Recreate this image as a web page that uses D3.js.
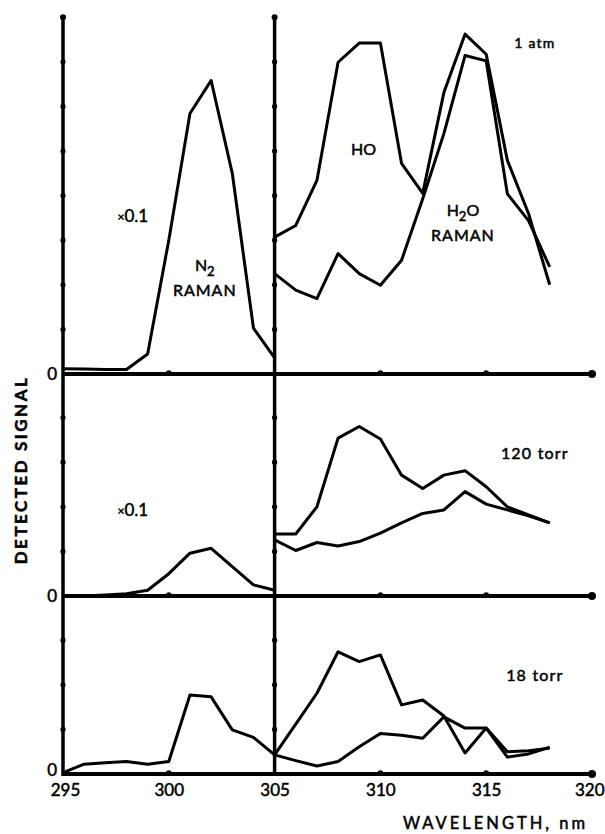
<!DOCTYPE html>
<html>
<head>
<meta charset="utf-8">
<script src="https://cdn.jsdelivr.net/npm/d3@7"></script>
<style>
  body { margin: 0; background: #fff; }
  svg text { font-family: Lato, "Open Sans", sans-serif; fill: #000; stroke: #000; stroke-width: 0.5px; }
</style>
</head>
<body>
<div id="chart"></div>
<script>
// wavelengths (nm) for the two halves of every panel
var wlLeft = [295, 296, 297, 298, 299, 300, 301, 302, 303, 304, 305];
var wlRight = [305, 306, 307, 308, 309, 310, 311, 312, 313, 314, 315, 316, 317, 318];
var xTicks = [295, 300, 305, 310, 315, 320];

// 1 atm (values in tick units)
var n2Atm = [0.12, 0.11, 0.1, 0.1, 0.45, 3.0, 5.84, 6.58, 4.5, 1.03, 0.36];
var hoAtm = [3.07, 3.33, 4.34, 6.99, 7.42, 7.42, 4.72, 4.05, 6.31, 7.62, 7.17, 4.79, 3.6, 2.0];
var h2oAtm = [2.25, 1.88, 1.69, 2.7, 2.25, 1.99, 2.55, 3.93, 5.39, 7.14, 7.02, 4.04, 3.44, 2.4];

// 120 torr
var n2Torr120 = [0, 0, 0.02, 0.05, 0.13, 0.5, 0.96, 1.07, 0.66, 0.25, 0.13];
var hoTorr120 = [1.39, 1.39, 2.0, 3.54, 3.8, 3.52, 2.71, 2.41, 2.71, 2.81, 2.45, 2.0, 1.82, 1.64];
var h2oTorr120 = [1.26, 1.02, 1.2, 1.12, 1.22, 1.41, 1.64, 1.85, 1.93, 2.34, 2.06, 1.93, 1.8, 1.64];

// 18 torr
var n2Torr18 = [0.03, 0.22, 0.25, 0.28, 0.22, 0.28, 1.77, 1.73, 0.99, 0.82, 0.43];
var hoTorr18 = [0.43, 1.12, 1.81, 2.74, 2.52, 2.67, 1.55, 1.66, 1.3, 0.47, 1.03, 0.38, 0.45, 0.6];
var h2oTorr18 = [0.43, 0.3, 0.18, 0.28, 0.61, 0.91, 0.87, 0.8, 1.28, 1.03, 1.03, 0.5, 0.52, 0.58];

var panelMax = [8, 5, 4];
var panelLabels = ["1 atm", "120 torr", "18 torr"];

var width = 605, height = 834;
var unit = 44.6;
var zeros = [374, 596, 774];

var x = d3.scaleLinear().domain([295, 320]).range([63, 592]);
var ys = zeros.map(function(z, i) {
    return d3.scaleLinear().domain([0, panelMax[i]]).range([z, z - panelMax[i] * unit]);
});

var svg = d3.select('#chart').append('svg')
    .attr('width', width).attr('height', height);

var series = [
    [n2Atm, hoAtm, h2oAtm],
    [n2Torr120, hoTorr120, h2oTorr120],
    [n2Torr18, hoTorr18, h2oTorr18]
];

series.forEach(function(s, p) {
    var y = ys[p];
    var line = d3.line()
        .x(function(d) { return x(d[0]); })
        .y(function(d) { return y(d[1]); });
    var left = wlLeft.map(function(w, i) { return [w, s[0][i]]; });
    svg.append('path').attr('d', line(left))
        .attr('fill', 'none').attr('stroke', '#000').attr('stroke-width', 3).attr('stroke-linejoin', 'round');
    [s[1], s[2]].forEach(function(vals) {
        var pts = wlRight.map(function(w, i) { return [w, vals[i]]; });
        svg.append('path').attr('d', line(pts))
            .attr('fill', 'none').attr('stroke', '#000').attr('stroke-width', 3).attr('stroke-linejoin', 'round');
    });
});

// frame: vertical axes at 295 and 305, zero lines in every panel
var yTop = ys[0](panelMax[0]);
[295, 305].forEach(function(w) {
    svg.append('line')
        .attr('x1', x(w)).attr('x2', x(w))
        .attr('y1', yTop).attr('y2', zeros[2] + 2)
        .attr('stroke', '#000').attr('stroke-width', 3.5);
    svg.append('circle').attr('cx', x(w)).attr('cy', yTop).attr('r', 3);
    ys.forEach(function(y, p) {
        d3.range(1, panelMax[p]).forEach(function(t) {
            svg.append('circle').attr('cx', x(w)).attr('cy', y(t)).attr('r', 2.6);
        });
    });
});

zeros.forEach(function(z, p) {
    svg.append('line')
        .attr('x1', x(295) - 1).attr('x2', x(320))
        .attr('y1', z).attr('y2', z)
        .attr('stroke', '#000').attr('stroke-width', 4);
    [300, 310, 315].forEach(function(w) {
        svg.append('circle').attr('cx', x(w)).attr('cy', z - 1).attr('r', 2.8);
    });
    svg.append('circle').attr('cx', x(320)).attr('cy', z).attr('r', 4);
    svg.append('text')
        .attr('x', x(295) - 6).attr('y', p === 2 ? z - 4 : z)
        .attr('dy', '0.36em')
        .attr('text-anchor', 'end')
        .style('font-size', '17px')
        .text('0');
    svg.append('text')
        .attr('x', x(317.3)).attr('y', ys[p](p === 0 ? 7.3 : (p === 1 ? 3.08 : 2.08)))
        .attr('text-anchor', 'middle')
        .style('font-size', p === 0 ? '14px' : '16px')
        .style('letter-spacing', '1.2px')
        .text(panelLabels[p]);
});

// x axis labels
var xAxis = d3.axisBottom(x).tickValues(xTicks).tickSize(0).tickPadding(10);
var gx = svg.append('g').attr('transform', 'translate(0,' + zeros[2] + ')').call(xAxis);
gx.select('.domain').remove();
gx.selectAll('text')
    .style('font-family', 'Lato, sans-serif')
    .style('font-size', '17px')
    .attr('fill', '#000');
gx.selectAll('.tick').filter(function(d) { return d === 320; })
    .select('text').attr('text-anchor', 'end').attr('x', 12);
gx.selectAll('.tick').filter(function(d) { return d === 295; })
    .select('text').attr('x', 2);

svg.append('text')
    .attr('x', 588).attr('y', 829)
    .attr('text-anchor', 'end')
    .style('font-size', '16.5px')
    .style('letter-spacing', '3px')
    .text('WAVELENGTH, nm');

svg.append('text')
    .attr('transform', 'translate(27,470) rotate(-90)')
    .attr('text-anchor', 'middle')
    .style('font-size', '17px')
    .style('font-weight', 'bold')
    .style('letter-spacing', '2.5px')
    .text('DETECTED SIGNAL');

// ×0.1 notes on the N2 curves
[[0, 3.4], [1, 1.8]].forEach(function(a) {
    var t = svg.append('text')
        .attr('x', x(298.3)).attr('y', ys[a[0]](a[1]))
        .attr('text-anchor', 'middle')
        .style('font-size', '17px');
    t.append('tspan').style('font-size', '12px').attr('dy', '-1').text('×');
    t.append('tspan').attr('dy', '1').text('0.1');
});

// peak labels in the 1 atm panel
var y0 = ys[0];
var n2 = svg.append('text')
    .attr('x', x(301.7)).attr('y', y0(2.3))
    .attr('text-anchor', 'middle')
    .style('font-size', '16px');
n2.append('tspan').text('N');
n2.append('tspan').attr('dy', 5).style('font-size', '13px').text('2');
svg.append('text')
    .attr('x', x(301.7)).attr('y', y0(1.75))
    .attr('text-anchor', 'middle')
    .style('font-size', '16px')
    .style('letter-spacing', '1px')
    .text('RAMAN');

svg.append('text')
    .attr('x', x(309.2)).attr('y', y0(4.9))
    .attr('text-anchor', 'middle')
    .style('font-size', '16px')
    .text('HO');

var h2o = svg.append('text')
    .attr('x', x(313.9)).attr('y', y0(3.55))
    .attr('text-anchor', 'middle')
    .style('font-size', '16px');
h2o.append('tspan').text('H');
h2o.append('tspan').attr('dy', 5).style('font-size', '13px').text('2');
h2o.append('tspan').attr('dy', -5).text('O');
svg.append('text')
    .attr('x', x(313.9)).attr('y', y0(2.98))
    .attr('text-anchor', 'middle')
    .style('font-size', '16px')
    .style('letter-spacing', '1px')
    .text('RAMAN');
</script>
</body>
</html>
